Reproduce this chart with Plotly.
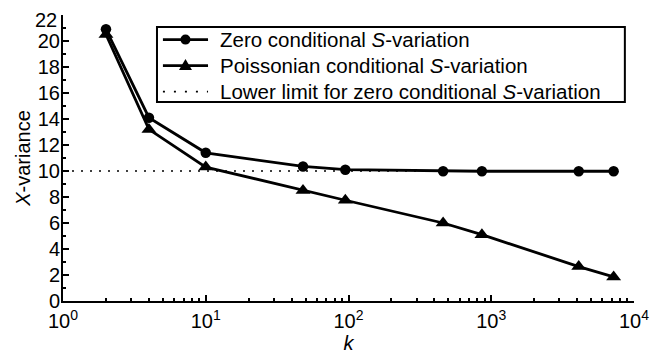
import plotly.graph_objects as go

k_vals = [2, 4, 10, 48, 95, 460, 860, 4100, 7200]
zero_var = [20.9, 14.1, 11.4, 10.35, 10.1, 9.98, 9.98, 9.98, 9.98]
poisson_var = [20.5, 13.2, 10.3, 8.5, 7.75, 6.0, 5.1, 2.65, 1.85]
limit_k = [1, 8000]
limit_val = [10, 10]

series_names = [
    "Zero conditional <i>S</i>-variation",
    "Poissonian conditional <i>S</i>-variation",
    "Lower limit for zero conditional <i>S</i>-variation",
]

x_tickvals = [1, 10, 100, 1000, 10000]
x_ticktext = ["10<sup>0</sup>", "10<sup>1</sup>", "10<sup>2</sup>", "10<sup>3</sup>", "10<sup>4</sup>"]
y_tickvals = [0, 2, 4, 6, 8, 10, 12, 14, 16, 18, 20, 22]
y_ticktext = ["0", "2", "4", "6", "8", "10", "12", "14", "16", "18", "20", "22"]

minor_x = [m * 10 ** d for d in range(4) for m in range(2, 10)]

FONT = "Liberation Sans, Arial, sans-serif"
LW = 2.8
DOT = "2px,7px"

fig = go.Figure()
fig.add_trace(go.Scatter(
    x=k_vals, y=zero_var, mode="lines+markers", name=series_names[0],
    line=dict(color="black", width=LW),
    marker=dict(symbol="circle", size=10.5, color="black"),
))
fig.add_trace(go.Scatter(
    x=k_vals, y=poisson_var, mode="lines+markers", name=series_names[1],
    line=dict(color="black", width=LW),
    marker=dict(symbol="triangle-up", size=13, color="black"),
))
fig.add_trace(go.Scatter(
    x=limit_k, y=limit_val, mode="lines", name=series_names[2],
    line=dict(color="black", width=1.6, dash=DOT),
))

# ---- legend drawn as a framed box (paper coordinates) ----
box_x0, box_x1, box_y0, box_y1 = 0.1646, 0.984, 0.696, 0.958
row_y = [0.914, 0.823, 0.732]
samp_x0, samp_x1, samp_xc, text_x = 0.175, 0.254, 0.2145, 0.272

shapes = [dict(type="rect", xref="paper", yref="paper",
               x0=box_x0, x1=box_x1, y0=box_y0, y1=box_y1,
               line=dict(color="black", width=2), fillcolor="white", layer="above")]
for i, ry in enumerate(row_y):
    shapes.append(dict(type="line", xref="paper", yref="paper",
                       x0=samp_x0, x1=samp_x1, y0=ry, y1=ry, layer="above",
                       line=dict(color="black", width=LW if i < 2 else 1.6,
                                 dash="solid" if i < 2 else "2px,9px")))
shapes.append(dict(type="circle", xref="paper", yref="paper",
                   xsizemode="pixel", ysizemode="pixel",
                   xanchor=samp_xc, yanchor=row_y[0],
                   x0=-5, x1=5, y0=-5, y1=5, layer="above",
                   fillcolor="black", line=dict(color="black", width=0)))
shapes.append(dict(type="path", xref="paper", yref="paper",
                   xsizemode="pixel", ysizemode="pixel",
                   xanchor=samp_xc, yanchor=row_y[1],
                   path="M -6.5,-4.5 L 6.5,-4.5 L 0,6.5 Z", layer="above",
                   fillcolor="black", line=dict(color="black", width=0)))

annotations = [dict(xref="paper", yref="paper", x=text_x, y=ry,
                    xanchor="left", yanchor="middle", showarrow=False,
                    text=series_names[i], font=dict(family=FONT, size=20.5, color="black"))
               for i, ry in enumerate(row_y)]

# top tick label sits just below its tick so it stays inside the figure
top_label = y_ticktext[-1]
y_ticktext_axis = y_ticktext[:-1] + [""]
annotations.append(dict(xref="paper", yref="y", x=0, y=y_tickvals[-1],
                        xanchor="right", yanchor="middle", xshift=-4, yshift=-5,
                        showarrow=False, text=top_label,
                        font=dict(family=FONT, size=20, color="black")))

# page body has an 8px default margin; figure sized to fill the rest
fig.update_layout(
    width=654, height=350,
    margin=dict(l=55, r=28, t=7, b=57, autoexpand=False),
    paper_bgcolor="white", plot_bgcolor="white",
    font=dict(family=FONT, size=20, color="black"),
    showlegend=False,
    shapes=shapes, annotations=annotations,
)
fig.update_xaxes(
    type="log", range=[0, 4],
    tickmode="array", tickvals=x_tickvals, ticktext=x_ticktext,
    ticks="inside", ticklen=6, tickwidth=1.5, tickcolor="black",
    showline=True, linecolor="black", linewidth=2,
    showgrid=False, zeroline=False, automargin=False,
    ticklabeloverflow="allow", ticklabelstandoff=1,
    minor=dict(tickmode="array", tickvals=minor_x, ticks="inside", ticklen=3, tickcolor="black", showgrid=False),
    tickfont=dict(family=FONT, size=20),
    title=dict(text="<i>k</i>", font=dict(family=FONT, size=20), standoff=0),
)
fig.update_yaxes(
    range=[0, 22],
    tickmode="array", tickvals=y_tickvals, ticktext=y_ticktext_axis,
    ticks="inside", ticklen=6, tickwidth=1.5, tickcolor="black",
    showline=True, linecolor="black", linewidth=2,
    showgrid=False, zeroline=False, automargin=False,
    ticklabeloverflow="allow", ticklabelstandoff=-3,
    minor=dict(dtick=1, ticks="inside", ticklen=3, tickcolor="black", showgrid=False),
    tickfont=dict(family=FONT, size=20),
    title=dict(text="<i>X</i>-variance", font=dict(family=FONT, size=20), standoff=2),
)

fig.write_html("out.html")
